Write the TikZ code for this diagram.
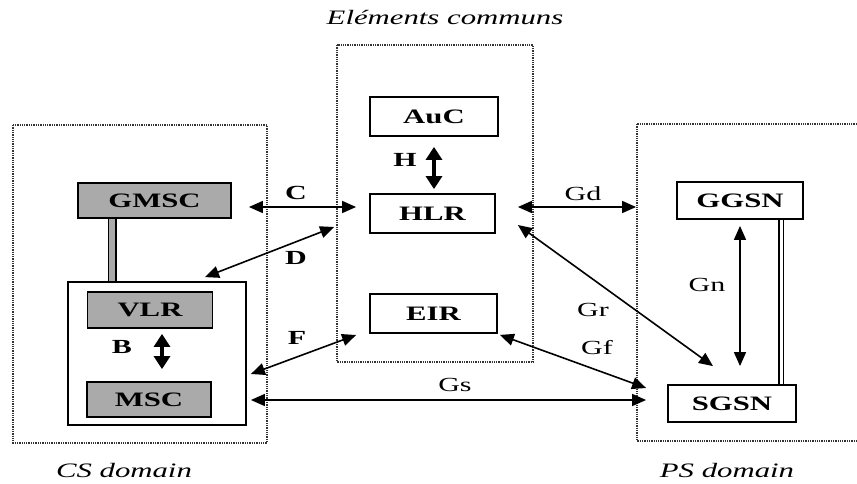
\documentclass[tikz,border=0pt]{standalone}
\usepackage{fontspec}
\setmainfont{Liberation Serif}[FakeStretch=1.5]
\usetikzlibrary{arrows.meta}
\definecolor{boxgray}{RGB}{170,170,170}

\begin{document}
\begin{tikzpicture}[x=1pt,y=-1pt,
  elem/.style={draw, line width=1.8pt, inner sep=0pt, font=\fontsize{20.5}{22}\selectfont\bfseries},
  grayelem/.style={elem, fill=boxgray},
  domainbox/.style={dash pattern=on 1.3pt off 1pt, line width=2.4pt, black!80},
  iface/.style={{Triangle[length=14pt,width=12pt]}-{Triangle[length=14pt,width=12pt]}, line width=1.6pt},
  bigiface/.style={{Triangle[length=13pt,width=16pt]}-{Triangle[length=13pt,width=16pt]}, line width=3.2pt},
  lbl/.style={font=\fontsize{20}{22}\selectfont},
  blbl/.style={font=\fontsize{20}{22}\selectfont\bfseries},
  title/.style={font=\fontsize{20.5}{22}\selectfont\itshape}]
\useasboundingbox (0,0) rectangle (857,483);
\clip (0,0) rectangle (857,483);
% Domains
\draw[domainbox] (13,125) rectangle (267,443);
\draw[domainbox] (337,45) rectangle (533,362);
\draw[domainbox] (637,124) rectangle (890,441);
\node[title] (cstitle) at (124,470) {CS domain};
\node[title] (comtitle) at (445,17) {Eléments communs};
\node[title] (pstitle) at (727,470) {PS domain};
% CS domain
\node[draw, line width=1.8pt, minimum width=178pt, minimum height=143pt] (msca) at (157,353.5) {};
\node[grayelem, minimum width=153pt, minimum height=35pt] (gmsc) at (154.5,200.5) {GMSC};
\node[grayelem, minimum width=125pt, minimum height=36pt] (vlr) at (150,310) {VLR};
\node[grayelem, minimum width=124pt, minimum height=35pt] (msc) at (149,399.5) {MSC};
\draw[double=boxgray, double distance=6pt, line width=1.5pt]
  ([xshift=-42.5pt]gmsc.south) -- ([xshift=-42.5pt]gmsc.south |- msca.north);
\draw[bigiface] ([xshift=12pt,yshift=-5pt]vlr.south) -- ([xshift=12pt,yshift=12pt]vlr.south |- msc.north);
\node[blbl] (b) at (122,347) {B};
% Common elements
\node[elem, minimum width=128pt, minimum height=39pt] (auc) at (434,116.5) {AuC};
\node[elem, minimum width=125pt, minimum height=39pt] (hlr) at (432.5,213.5) {HLR};
\node[elem, minimum width=127pt, minimum height=39pt] (eir) at (433.5,313.5) {EIR};
\draw[bigiface] ([yshift=-10pt]auc.south) -- ([yshift=4pt]auc.south |- hlr.north);
\node[blbl] (h) at (405,160) {H};
% PS domain
\node[elem, minimum width=126pt, minimum height=37pt] (ggsn) at (740,200.5) {GGSN};
\node[elem, minimum width=128pt, minimum height=37pt] (sgsn) at (732,403.5) {SGSN};
\draw[double, double distance=3pt, line width=1.3pt]
  ([xshift=41pt]ggsn.south) -- ([xshift=41pt]ggsn.south |- sgsn.north);
\draw[iface] ([yshift=-6pt]ggsn.south) -- ([yshift=18pt]ggsn.south |- sgsn.north);
\node[lbl] (gn) at (707,285) {Gn};
% Interfaces
\draw[iface] ([xshift=17pt,yshift=-6.5pt]gmsc.east) -- ([xshift=-13pt,yshift=6.5pt]hlr.west);
\node[blbl] (c) at (296,193) {C};
\draw[iface] ([xshift=-35pt,yshift=-13.5pt]hlr.west) -- ([xshift=48pt,yshift=4pt]msca.north);
\node[blbl] (d) at (296,258) {D};
\draw[iface] ([xshift=-13pt,yshift=-21.5pt]eir.west) -- ([xshift=4pt,yshift=-20.5pt]msca.east);
\node[blbl] (f) at (297,338) {F};
\draw[iface] ([xshift=4pt,yshift=-46.5pt]msca.east) -- ([xshift=-21pt,yshift=3.5pt]sgsn.west);
\node[lbl] (gs) at (455,385) {Gs};
\draw[iface] ([xshift=22pt,yshift=6.5pt]hlr.east) -- ([xshift=-40pt,yshift=-6.5pt]ggsn.west);
\node[lbl] (gd) at (583,194) {Gd};
\draw[iface] ([xshift=22pt,yshift=-11.5pt]hlr.east) -- ([xshift=-19pt,yshift=18pt]sgsn.north);
\node[lbl] (gr) at (593,310) {Gr};
\draw[iface] ([xshift=2pt,yshift=-1pt]eir.south east) -- ([xshift=-21pt,yshift=15.5pt]sgsn.west);
\node[lbl] (gf) at (597,348) {Gf};
\end{tikzpicture}
\end{document}
